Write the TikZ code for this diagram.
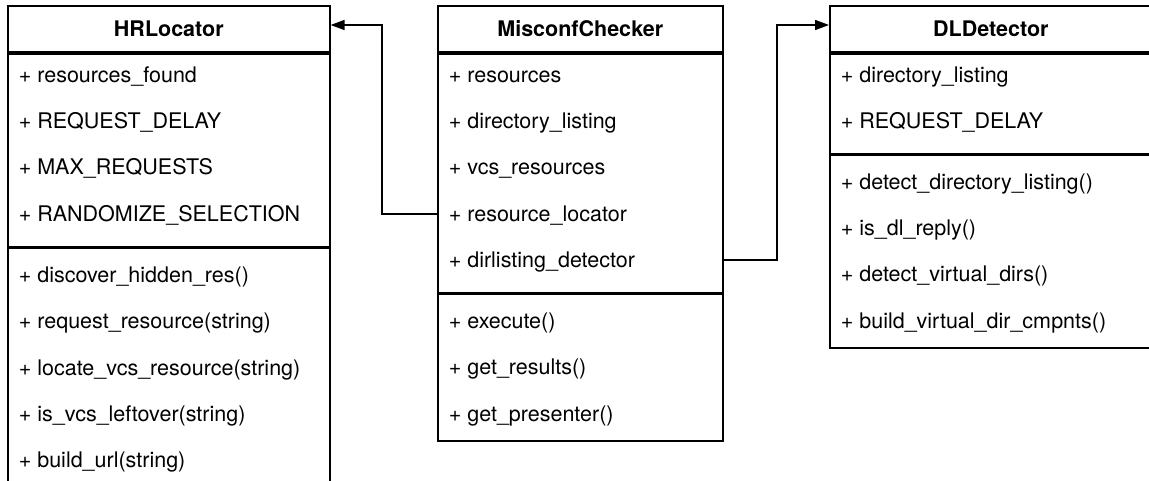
\documentclass[tikz,border=0pt]{standalone}
\usepackage{fontspec}
\setmainfont{TeX Gyre Heros}
\usetikzlibrary{arrows.meta}

\begin{document}
\begin{tikzpicture}[x = 1pt, y = 1pt, line width = 1.6pt, font = \fontsize{21.5}{25}\selectfont,
	box/.style = {rectangle, draw = black, anchor = north west, inner sep = 0pt},
	row/.style = {anchor = west, inner sep = 0pt, text height = 19pt, text depth = 4pt},
	assoc/.style = {-{Triangle[length = 14pt, width = 10pt]}}]

	\clip (0, 0) rectangle (1149, -481);

	% HRLocator
	\node [box, minimum width = 322, minimum height = 46.4] (hr) at (7, -5) {\bfseries HRLocator};
	\node [box, minimum width = 322, minimum height = 192.7] (hrattr) at (hr.south west) {};
	\node [box, minimum width = 322, minimum height = 239.1] (hrmeth) at (hrattr.south west) {};
	\node [row] (hr1) at (18, -74.6) {+ resources\_found};
	\node [row] (hr2) at (18, -121) {+ REQUEST\_DELAY};
	\node [row] (hr3) at (18, -167.4) {+ MAX\_REQUESTS};
	\node [row] (hr4) at (18, -213.8) {+ RANDOMIZE\_SELECTION};
	\node [row] (hr5) at (18, -274.8) {+ discover\_hidden\_res()};
	\node [row] (hr6) at (18, -321.2) {+ request\_resource(string)};
	\node [row] (hr7) at (18, -367.6) {+ locate\_vcs\_resource(string)};
	\node [row] (hr8) at (18, -414) {+ is\_vcs\_leftover(string)};
	\node [row] (hr9) at (18, -460.4) {+ build\_url(string)};

	% MisconfChecker
	\node [box, minimum width = 285, minimum height = 46.4] (mc) at (437, -5) {\bfseries MisconfChecker};
	\node [box, minimum width = 285, minimum height = 239.1] (mcattr) at (mc.south west) {};
	\node [box, minimum width = 285, minimum height = 146.3] (mcmeth) at (mcattr.south west) {};
	\node [row] (mc1) at (448, -74.6) {+ resources};
	\node [row] (mc2) at (448, -121) {+ directory\_listing};
	\node [row] (mc3) at (448, -167.4) {+ vcs\_resources};
	\node [row] (mc4) at (448, -213.8) {+ resource\_locator};
	\node [row] (mc5) at (448, -260.2) {+ dirlisting\_detector};
	\node [row] (mc6) at (448, -320.8) {+ execute()};
	\node [row] (mc7) at (448, -367.2) {+ get\_results()};
	\node [row] (mc8) at (448, -413.6) {+ get\_presenter()};

	% DLDetector
	\node [box, minimum width = 322, minimum height = 46.4] (dl) at (829, -5) {\bfseries DLDetector};
	\node [box, minimum width = 322, minimum height = 99.9] (dlattr) at (dl.south west) {};
	\node [box, minimum width = 322, minimum height = 192.7] (dlmeth) at (dlattr.south west) {};
	\node [row] (dl1) at (840, -74.6) {+ directory\_listing};
	\node [row] (dl2) at (840, -121) {+ REQUEST\_DELAY};
	\node [row] (dl3) at (840, -181.6) {+ detect\_directory\_listing()};
	\node [row] (dl4) at (840, -228) {+ is\_dl\_reply()};
	\node [row] (dl5) at (840, -274.4) {+ detect\_virtual\_dirs()};
	\node [row] (dl6) at (840, -320.8) {+ build\_virtual\_dir\_cmpnts()};

	% associations
	\coordinate (hrbend) at (382, -25);
	\coordinate (dlbend) at (777, -25);
	\draw [assoc] (mc4.west -| mc.west) -| (hrbend) -- (hrbend -| hr.east);
	\draw [assoc] (mc5.east -| mc.east) -| (dlbend) -- (dlbend -| dl.west);

\end{tikzpicture}
\end{document}
